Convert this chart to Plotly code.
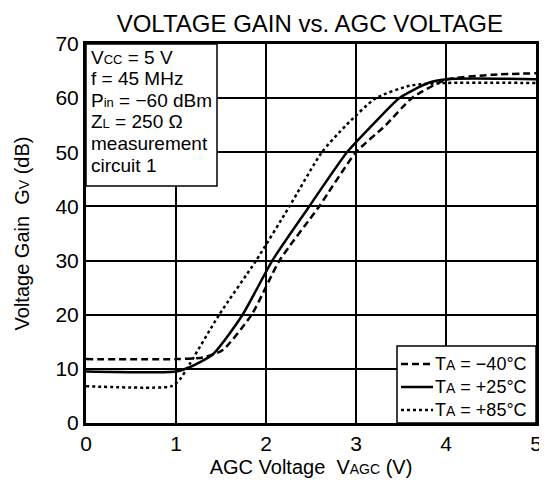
import plotly.graph_objects as go

# AGC voltage (V) / voltage gain (dB)
agc_m40 = [0, 1.0, 1.3, 1.52, 1.84, 2.15, 2.59, 3.0, 3.33, 3.62, 4.0, 4.5, 5.0]
gain_m40 = [11.8, 11.8, 12.1, 13.5, 20, 30, 40, 50, 55, 60, 63.4, 64.3, 64.6]

agc_p25 = [0, 1.0, 1.15, 1.41, 1.74, 2.07, 2.48, 2.9, 3.18, 3.48, 3.8, 4.0, 5.0]
gain_p25 = [9.5, 9.5, 10.3, 12.7, 20, 30, 40, 50, 55, 60, 62.8, 63.5, 63.5]

agc_p85 = [0, 0.95, 1.05, 1.12, 1.48, 1.89, 2.26, 2.62, 2.89, 3.22, 3.6, 4.0, 5.0]
gain_p85 = [6.8, 6.8, 8.2, 10, 20, 30, 40, 50, 55, 60, 62.3, 62.8, 62.8]

temp_labels = ["T<span style='font-size:14px'>A</span> = \u221240\u00b0C",
               "T<span style='font-size:14px'>A</span> = +25\u00b0C",
               "T<span style='font-size:14px'>A</span> = +85\u00b0C"]
dashes = ["7px,4px", "solid", "3px,3px"]

cond_lines = ["V<span style='font-size:13px'>CC</span> = 5 V",
              "f = 45 MHz",
              "P<span style='font-size:13px'>in</span> = \u221260 dBm",
              "Z<span style='font-size:13px'>L</span> = 250 \u03a9",
              "measurement",
              "circuit 1"]

sub = "<span style='font-size:14px'>%s</span>"

# the page body has an 8px margin, so the figure is offset by (8, 8)
W, H = 539, 477
ml, mr, mt, mb = 78, 11, 36, 62
pw, ph = W - ml - mr, H - mt - mb


def px_x(page_x):
    return (page_x - 8 - ml) / pw


def px_y(page_y):
    return (H - mb - (page_y - 8)) / ph


fig = go.Figure()
for xs, ys, dash in zip([agc_m40, agc_p25, agc_p85], [gain_m40, gain_p25, gain_p85], dashes):
    fig.add_trace(go.Scatter(x=xs, y=ys, mode="lines", showlegend=False,
                             line=dict(color="black", width=2.5, dash=dash,
                                       shape="spline", smoothing=0.6)))

shapes = [
    # condition box
    dict(type="rect", xref="paper", yref="paper", x0=0, x1=px_x(217),
         y0=px_y(186), y1=1, fillcolor="white",
         line=dict(color="black", width=1.5), layer="above"),
    # legend box
    dict(type="rect", xref="paper", yref="paper", x0=px_x(397), x1=1,
         y0=0, y1=px_y(346), fillcolor="white",
         line=dict(color="black", width=1.5), layer="above"),
]
notes = []
for i, t in enumerate(cond_lines):
    notes.append(dict(xref="paper", yref="paper", x=px_x(89), y=px_y(57 + i * 21.6),
                      xanchor="left", yanchor="middle", showarrow=False,
                      text=t, font=dict(size=19)))
for i, (t, d) in enumerate(zip(temp_labels, dashes)):
    yc = px_y(364 + i * 23)
    shapes.append(dict(type="line", xref="paper", yref="paper", x0=px_x(401), x1=px_x(433),
                       y0=yc, y1=yc, layer="above",
                       line=dict(color="black", width=2.5, dash=d)))
    notes.append(dict(xref="paper", yref="paper", x=px_x(433), y=yc,
                      xanchor="left", yanchor="middle", showarrow=False,
                      text=t, font=dict(size=18)))

fig.update_layout(
    width=W, height=H,
    margin=dict(l=ml, r=mr, t=mt, b=mb),
    paper_bgcolor="white", plot_bgcolor="white",
    font=dict(family="Liberation Sans, Arial, sans-serif", color="black", size=19),
    title=dict(text="VOLTAGE GAIN vs. AGC VOLTAGE", x=0.56, xanchor="center",
               y=0.968, yanchor="middle", font=dict(size=24)),
    shapes=shapes,
    annotations=notes,
)
fig.update_xaxes(range=[0, 5], dtick=1, showgrid=True, gridcolor="black", gridwidth=1.5,
                 showline=True, linecolor="black", linewidth=3, mirror=True,
                 ticks="", zeroline=False, tickfont=dict(size=21), automargin=False,
                 title=dict(text="AGC Voltage  V" + sub % "AGC" + " (V)", standoff=6,
                            font=dict(size=20)))
fig.update_yaxes(range=[0, 70], dtick=10, showgrid=True, gridcolor="black", gridwidth=1.5,
                 showline=True, linecolor="black", linewidth=3, mirror=True,
                 ticks="", zeroline=False, tickfont=dict(size=21), automargin=False,
                 title=dict(text="Voltage Gain  G" + sub % "V" + " (dB)", standoff=21,
                            font=dict(size=20)))

fig.write_html("out.html")
